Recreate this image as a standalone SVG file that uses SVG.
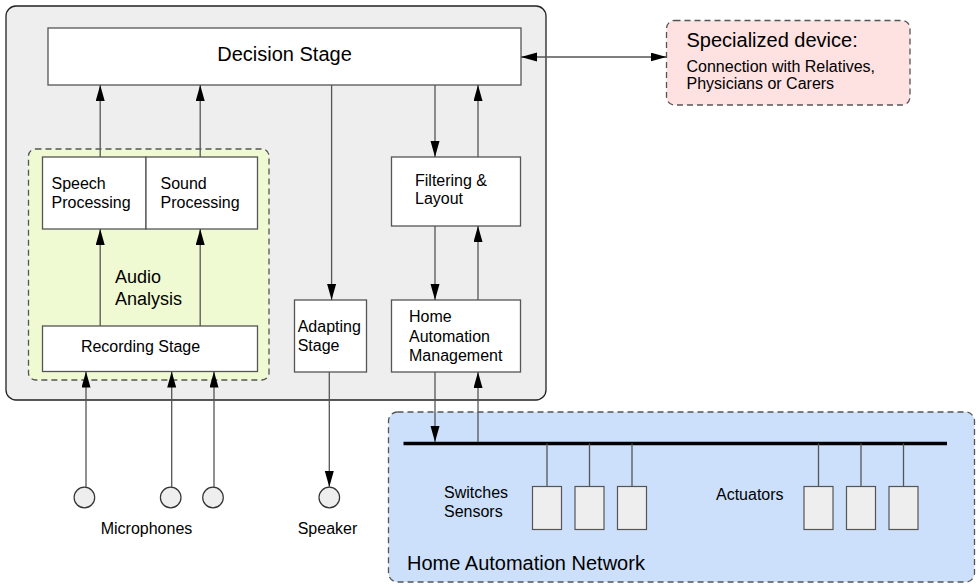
<svg xmlns="http://www.w3.org/2000/svg" width="979" height="584" viewBox="0 0 979 584">
<defs>
<marker id="ah" markerUnits="userSpaceOnUse" markerWidth="17" markerHeight="10" refX="16" refY="4.5" orient="auto-start-reverse">
<path d="M0,0 L16,4.5 L0,9 z" fill="#000"/>
</marker>
</defs>
<style>
text{font-family:"Liberation Sans",Arial,sans-serif;fill:#000;}
.t16{font-size:16px;}
.t18{font-size:18px;}
.t20{font-size:20px;}
.box{fill:#fff;stroke:#555;stroke-width:1.3;}
.dash{stroke:#555;stroke-width:1.3;stroke-dasharray:6 4;}
.c{stroke:#555;stroke-width:1.3;fill:none;}
.arr{marker-end:url(#ah);}
.dev{fill:#eee;stroke:#555;stroke-width:1.2;}
.circ{fill:#eee;stroke:#333;stroke-width:1.2;}
</style>
<rect id="system" x="6" y="6" width="540" height="394" rx="10" fill="#eee" stroke="#222" stroke-width="1.3"/>
<g id="audio-analysis">
<rect x="28.5" y="149" width="240.5" height="231" rx="7" fill="#f0fad2" class="dash"/>
<text class="t18" x="115" y="283">Audio</text>
<text class="t18" x="115" y="304.5">Analysis</text>
</g>
<g id="han">
<rect x="388.5" y="412" width="586" height="170" rx="9" fill="#cce0fb" class="dash"/>
<text class="t20" x="407" y="570">Home Automation Network</text>
</g>
<g id="specialized">
<rect x="666.5" y="20.5" width="243.5" height="84.5" rx="8" fill="#fee1e1" class="dash"/>
<text class="t20" x="686.5" y="46.5">Specialized device:</text>
<text class="t16" x="686.5" y="71.5">Connection with Relatives,</text>
<text class="t16" x="686.5" y="89">Physicians or Carers</text>
</g>
<g id="decision">
<rect class="box" x="48" y="28" width="473" height="57"/>
<text class="t20" x="284.5" y="60.5" text-anchor="middle">Decision Stage</text>
</g>
<g id="speech">
<rect class="box" x="42.5" y="157" width="103.5" height="72"/>
<text class="t16" x="51.5" y="189">Speech</text>
<text class="t16" x="51.5" y="208">Processing</text>
</g>
<g id="sound">
<rect class="box" x="146" y="157" width="111.5" height="72"/>
<text class="t16" x="160.5" y="189">Sound</text>
<text class="t16" x="160.5" y="208">Processing</text>
</g>
<g id="recording">
<rect class="box" x="42.5" y="326" width="215" height="45.5"/>
<text class="t16" x="140.5" y="352" text-anchor="middle">Recording Stage</text>
</g>
<g id="adapting">
<rect class="box" x="294.5" y="300" width="72" height="72"/>
<text class="t16" x="297.7" y="332">Adapting</text>
<text class="t16" x="297.7" y="351">Stage</text>
</g>
<g id="filtering">
<rect class="box" x="391.5" y="157" width="129" height="69"/>
<text class="t16" x="415" y="186">Filtering &amp;</text>
<text class="t16" x="415" y="204">Layout</text>
</g>
<g id="ham">
<rect class="box" x="391.5" y="300" width="129" height="72"/>
<text class="t16" x="409" y="322">Home</text>
<text class="t16" x="409" y="342">Automation</text>
<text class="t16" x="409" y="361">Management</text>
</g>
<g id="microphones">
<circle class="circ" cx="84.4" cy="497.5" r="10.3"/>
<circle class="circ" cx="170.7" cy="497.5" r="10.3"/>
<circle class="circ" cx="213" cy="497.5" r="10.3"/>
<text class="t16" x="100.7" y="534.3">Microphones</text>
</g>
<g id="speaker">
<circle class="circ" cx="329.3" cy="497.5" r="10.3"/>
<text class="t16" x="297.7" y="534.3">Speaker</text>
</g>
<g id="bus">
<line x1="403.5" y1="443.5" x2="947" y2="443.5" stroke="#000" stroke-width="3.3"/>
</g>
<g id="switches-sensors">
<rect class="dev" x="532.5" y="486.5" width="29" height="43"/>
<rect class="dev" x="575" y="486.5" width="29" height="43"/>
<rect class="dev" x="617.5" y="486.5" width="29" height="43"/>
<text class="t16" x="444" y="498">Switches</text>
<text class="t16" x="444" y="517">Sensors</text>
</g>
<g id="actuators">
<rect class="dev" x="804" y="486.5" width="29" height="43"/>
<rect class="dev" x="846.5" y="486.5" width="29" height="43"/>
<rect class="dev" x="889" y="486.5" width="29" height="43"/>
<text class="t16" x="716" y="500">Actuators</text>
</g>
<g id="connectors">
<line class="c arr" x1="100.2" y1="157" x2="100.2" y2="85"/>
<line class="c arr" x1="200.2" y1="157" x2="200.2" y2="85"/>
<line class="c arr" x1="100.2" y1="326" x2="100.2" y2="229"/>
<line class="c arr" x1="200.2" y1="326" x2="200.2" y2="229"/>
<line class="c arr" x1="331.6" y1="85" x2="331.6" y2="300"/>
<line class="c arr" x1="329.3" y1="372" x2="329.3" y2="487"/>
<line class="c arr" x1="435" y1="85" x2="435" y2="157"/>
<line class="c arr" x1="478" y1="157" x2="478" y2="85"/>
<line class="c arr" x1="435" y1="226" x2="435" y2="300"/>
<line class="c arr" x1="478" y1="300" x2="478" y2="226"/>
<line class="c arr" x1="435" y1="372" x2="435" y2="442"/>
<line class="c arr" x1="478" y1="442" x2="478" y2="372"/>
<line class="c arr" x1="86" y1="487.2" x2="86" y2="371.5"/>
<line class="c arr" x1="171.7" y1="487.2" x2="171.7" y2="371.5"/>
<line class="c arr" x1="214" y1="487.2" x2="214" y2="371.5"/>
<line class="c arr" x1="521" y1="57" x2="666.5" y2="57" style="marker-start:url(#ah)"/>
<line class="c" x1="547" y1="443.5" x2="547" y2="486.5"/>
<line class="c" x1="589.5" y1="443.5" x2="589.5" y2="486.5"/>
<line class="c" x1="632" y1="443.5" x2="632" y2="486.5"/>
<line class="c" x1="818.5" y1="443.5" x2="818.5" y2="486.5"/>
<line class="c" x1="861" y1="443.5" x2="861" y2="486.5"/>
<line class="c" x1="903.5" y1="443.5" x2="903.5" y2="486.5"/>
</g>
</svg>
